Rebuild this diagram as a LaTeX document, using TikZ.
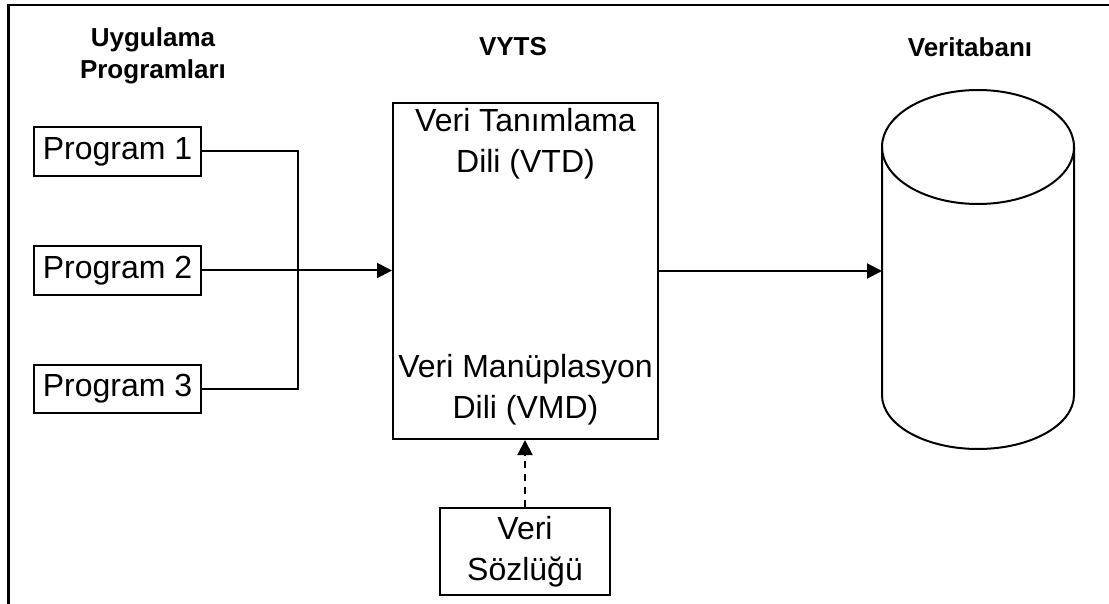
\documentclass[tikz,border=0pt]{standalone}
\usepackage{fontspec}
\setmainfont{Liberation Sans}
\usetikzlibrary{arrows.meta}
\begin{document}
\begin{tikzpicture}[x=1pt,y=-1pt,
  ln/.style={line width=2pt,draw=black},
  boxed/.style={ln,inner sep=0pt,font=\fontsize{32}{41}\selectfont,align=center},
  txt/.style={inner sep=0pt,font=\fontsize{32}{41}\selectfont,align=center},
  hdr/.style={inner sep=0pt,font=\fontsize{26}{32}\selectfont\bfseries,align=center},
  arr/.style={ln,-{Triangle[length=15pt,width=15pt]}},
  dsh/.style={arr,dash pattern=on 7pt off 6pt}]
\useasboundingbox (0,0) rectangle (1109,604);
% outer frame
\coordinate (fTL) at (8.5,5);
\coordinate (fBL) at (8.5,604);
\coordinate (fTR) at (1109,5);
\draw[line width=2.5pt] (fBL) -- (fTL) -- (fTR);
% headers
\node[hdr] (h1) at (153,56) {Uygulama\\Programları};
\node[hdr] (h2) at (513,47) {VYTS};
\node[hdr] (h3) at (970,47) {Veritabanı};
% programs
\node[boxed,minimum width=167pt,minimum height=49pt] (p1) at (117.5,151.5) {Program 1};
\node[boxed,minimum width=167pt,minimum height=49pt] (p2) at (117.5,270.5) {Program 2};
\node[boxed,minimum width=167pt,minimum height=48pt] (p3) at (117.5,389) {Program 3};
% VYTS box
\node[ln,minimum width=265pt,minimum height=336pt,inner sep=0pt] (vyts) at (525.5,271) {};
\node[txt] (vtd) at (525.5,144) {Veri Tanımlama\\Dili (VTD)};
\node[txt] (vmd) at (525.5,390) {Veri Manüplasyon\\Dili (VMD)};
% data dictionary
\node[boxed,minimum width=170pt,minimum height=87pt] (vs) at (525,551.5) {Veri\\Sözlüğü};
% database cylinder
\draw[ln] (882,147) -- (882,395) arc[start angle=180,end angle=360,x radius=96pt,y radius=54pt] -- (1074,147);
\draw[ln] (978,147) ellipse [x radius=96pt,y radius=57pt];
\coordinate (dbL) at (882,271);
% connectors
\coordinate (j) at (298,271);
\draw[ln] (p1.east) -| (j) |- (p3.east);
\draw[arr] (p2.east) -- (p2.east -| vyts.west);
\draw[arr] (vyts.east |- dbL) -- (dbL);
\draw[dsh] (vs.north) -- (vs.north |- vyts.south);
\end{tikzpicture}
\end{document}
